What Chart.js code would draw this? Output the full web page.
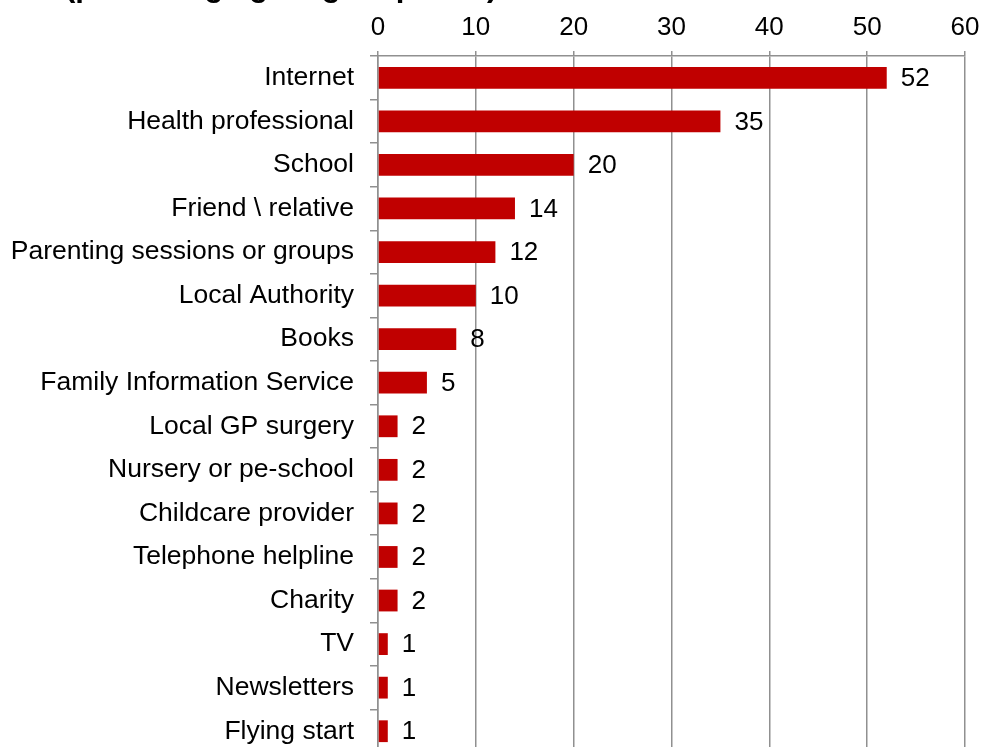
<!DOCTYPE html>
<html>
<head>
<meta charset="utf-8">
<script src="https://cdn.jsdelivr.net/npm/chart.js@4/dist/chart.umd.min.js"></script>
<style>
  html, body { margin: 0; padding: 0; background: #fff; overflow: hidden; }
  #wrap { width: 983px; height: 747px; overflow: hidden; position: relative; }
  canvas { display: block; }
</style>
</head>
<body>
<div id="wrap"><canvas id="c" width="983" height="753"></canvas></div>
<script>
const titleText = "(percentage giving response)";
const categories = [
  "Internet", "Health professional", "School", "Friend \\ relative",
  "Parenting sessions or groups", "Local Authority", "Books",
  "Family Information Service", "Local GP surgery", "Nursery or pe-school",
  "Childcare provider", "Telephone helpline", "Charity", "TV",
  "Newsletters", "Flying start"
];
const values = [52, 35, 20, 14, 12, 10, 8, 5, 2, 2, 2, 2, 2, 1, 1, 1];
const axisMin = 0;
const axisMax = 60;
const axisStep = 10;

const FONT = "'Liberation Sans', Arial, sans-serif";
const GRID = "#909090";
const BAR = "#C00000";

// Value labels to the right of each bar
const valueLabels = {
  id: "valueLabels",
  afterDatasetsDraw(chart) {
    const ctx = chart.ctx;
    const meta = chart.getDatasetMeta(0);
    ctx.save();
    ctx.font = "26px " + FONT;
    ctx.fillStyle = "#000";
    ctx.textAlign = "left";
    ctx.textBaseline = "middle";
    meta.data.forEach((bar, i) => {
      ctx.fillText(String(values[i]), bar.x + 14, bar.y + 1);
    });
    ctx.restore();
  }
};

// Heading line above the plot
const heading = {
  id: "heading",
  afterDraw(chart) {
    const ctx = chart.ctx;
    ctx.save();
    ctx.font = "bold 31px " + FONT;
    ctx.fillStyle = "#000";
    ctx.textAlign = "left";
    ctx.textBaseline = "alphabetic";
    ctx.fillText(titleText, 65, -4);
    ctx.restore();
  }
};

new Chart(document.getElementById("c"), {
  type: "bar",
  data: {
    labels: categories,
    datasets: [{
      data: values,
      backgroundColor: BAR,
      borderWidth: 0,
      categoryPercentage: 0.5,
      barPercentage: 1.0
    }]
  },
  options: {
    indexAxis: "y",
    responsive: false,
    animation: false,
    devicePixelRatio: 1,
    layout: { padding: { left: 0, right: 18, top: 0, bottom: 0 } },
    plugins: {
      legend: { display: false },
      tooltip: { enabled: false },
      title: { display: false }
    },
    scales: {
      x: {
        type: "linear",
        position: "top",
        min: axisMin,
        max: axisMax,
        ticks: {
          stepSize: axisStep,
          color: "#000",
          font: { family: FONT, size: 26 },
          padding: 8
        },
        grid: {
          color: GRID,
          lineWidth: 1.5,
          tickLength: 5,
          drawTicks: true
        },
        border: { display: true, color: GRID, width: 1.5 },
        afterFit(scale) {
          scale.height = 56;
          scale.paddingLeft = 0;
          scale.paddingRight = 0;
          scale.paddingTop = 0;
          scale.paddingBottom = 0;
        }
      },
      y: {
        type: "category",
        ticks: {
          color: "#000",
          font: { family: FONT, size: 26.5 },
          padding: 16,
          autoSkip: false
        },
        grid: {
          drawOnChartArea: false,
          drawTicks: true,
          offset: true,
          tickLength: 8,
          color: GRID,
          lineWidth: 1.5
        },
        border: { display: true, color: GRID, width: 1.5 },
        afterFit(scale) {
          scale.width = 378;
          scale.paddingLeft = 0;
          scale.paddingRight = 0;
          scale.paddingTop = 0;
          scale.paddingBottom = 0;
        }
      }
    }
  },
  plugins: [valueLabels, heading]
});
</script>
</body>
</html>
